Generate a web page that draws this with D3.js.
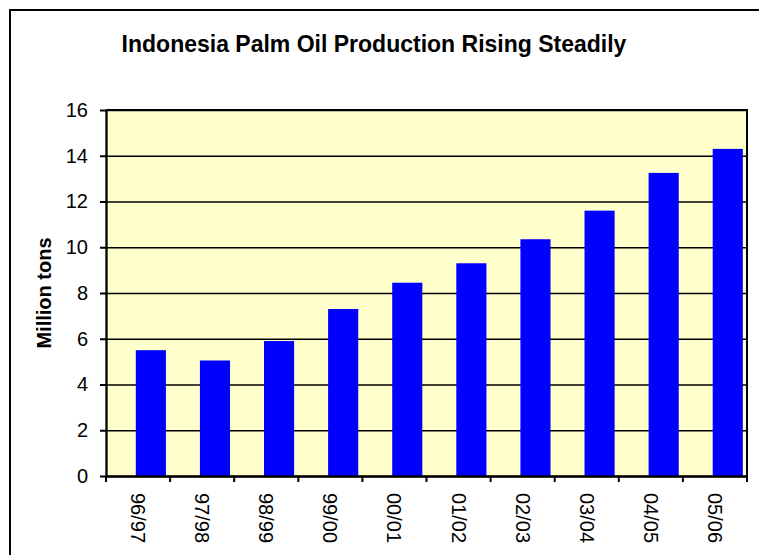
<!DOCTYPE html>
<html>
<head>
<meta charset="utf-8">
<script src="https://cdn.jsdelivr.net/npm/d3@7"></script>
<style>
    body { margin: 0; background: #fff; }
    svg { display: block; font-family: "Liberation Sans", Arial, sans-serif; }
</style>
</head>
<body>
<div id="chart"></div>
<script>
const PERIODS = ['96/97', '97/98', '98/99', '99/00', '00/01', '01/02', '02/03', '03/04', '04/05', '05/06'];
const PRODUCTION = [5.5, 5.05, 5.9, 7.3, 8.45, 9.3, 10.35, 11.6, 13.25, 14.3];
const Y_TICKS = [0, 2, 4, 6, 8, 10, 12, 14, 16];

const TITLE = 'Indonesia Palm Oil Production Rising Steadily';
const Y_LABEL = 'Million tons';

function drawChart() {
    const W = 759, H = 555;
    const plot = { left: 106, right: 747, top: 110, bottom: 476 };

    const svg = d3.select('#chart')
        .append('svg')
        .attr('width', W)
        .attr('height', H);

    // outer frame (cropped on right / bottom like the source)
    svg.append('rect')
        .attr('x', 10).attr('y', 10)
        .attr('width', 800).attr('height', 600)
        .attr('fill', 'none')
        .attr('stroke', '#000')
        .attr('stroke-width', 2);

    svg.append('text')
        .attr('x', 374)
        .attr('y', 52)
        .attr('text-anchor', 'middle')
        .style('font-size', '23px')
        .style('font-weight', 'bold')
        .text(TITLE);

    const x = d3.scaleBand()
        .domain(PERIODS)
        .range([plot.left, plot.right])
        .padding(0);

    const y = d3.scaleLinear()
        .domain([0, 16])
        .range([plot.bottom, plot.top]);

    svg.append('rect')
        .attr('x', plot.left).attr('y', plot.top)
        .attr('width', plot.right - plot.left)
        .attr('height', plot.bottom - plot.top)
        .attr('fill', '#ffffcc');

    // gridlines
    svg.append('g')
        .attr('transform', `translate(${plot.left},0)`)
        .call(d3.axisLeft(y).tickValues(Y_TICKS).tickSize(-(plot.right - plot.left)).tickFormat(''))
        .call(g => g.select('.domain').remove())
        .selectAll('line')
        .attr('stroke', '#000')
        .attr('stroke-width', 1.3);

    const bw = x.bandwidth();
    svg.selectAll('.bar')
        .data(PRODUCTION)
        .enter()
        .append('rect')
        .attr('class', 'bar')
        .attr('x', (d, i) => x(PERIODS[i]) + bw * 0.465)
        .attr('y', d => y(d))
        .attr('width', bw * 0.47)
        .attr('height', d => y(0) - y(d))
        .attr('fill', '#0000ff');

    // plot border: top and right
    svg.append('path')
        .attr('d', `M${plot.left},${plot.top}H${plot.right}V${plot.bottom}`)
        .attr('fill', 'none')
        .attr('stroke', '#000')
        .attr('stroke-width', 2);

    // y axis
    const yAxis = svg.append('g')
        .attr('transform', `translate(${plot.left},0)`)
        .call(d3.axisLeft(y).tickValues(Y_TICKS).tickSize(6).tickSizeOuter(0).tickPadding(12));
    yAxis.select('.domain').attr('stroke', '#000').attr('stroke-width', 2.3);
    yAxis.selectAll('line').attr('stroke', '#000').attr('stroke-width', 2);
    yAxis.selectAll('text')
        .style('font-size', '20px')
        .attr('fill', '#000')
        .attr('font-family', '"Liberation Sans", Arial, sans-serif');

    // x axis: labels at band centres, tick marks at band edges
    const xAxis = svg.append('g')
        .attr('transform', `translate(0,${plot.bottom})`)
        .call(d3.axisBottom(x).tickSize(0).tickSizeOuter(0));
    xAxis.select('.domain').attr('stroke', '#000').attr('stroke-width', 2.3);
    xAxis.selectAll('text')
        .attr('transform', 'rotate(90)')
        .attr('x', 17)
        .attr('y', 0)
        .attr('dy', '0.35em')
        .attr('text-anchor', 'start')
        .attr('fill', '#000')
        .attr('font-family', '"Liberation Sans", Arial, sans-serif')
        .style('font-size', '20px');

    const edges = PERIODS.map(p => x(p)).concat([plot.right]);
    xAxis.selectAll('.edge-tick')
        .data(edges)
        .enter()
        .append('line')
        .attr('class', 'edge-tick')
        .attr('x1', d => d).attr('x2', d => d)
        .attr('y1', 0).attr('y2', 6)
        .attr('stroke', '#000')
        .attr('stroke-width', 2);

    svg.append('text')
        .attr('transform', `translate(51,${(plot.top + plot.bottom) / 2}) rotate(-90)`)
        .attr('text-anchor', 'middle')
        .style('font-size', '20px')
        .style('font-weight', 'bold')
        .text(Y_LABEL);
}

document.addEventListener('DOMContentLoaded', drawChart);
</script>
</body>
</html>
